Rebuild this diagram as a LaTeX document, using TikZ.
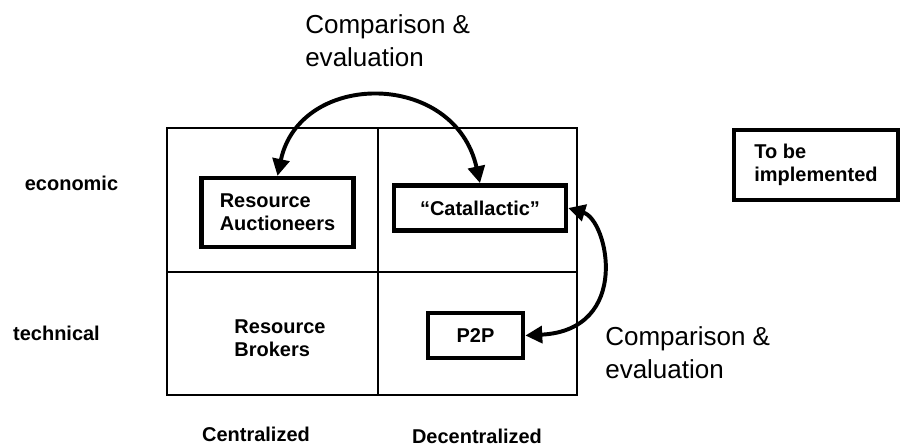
\documentclass[tikz,border=0pt]{standalone}
\usepackage{fontspec}
\setmainfont{Liberation Sans}
\usetikzlibrary{arrows.meta}

\begin{document}
\begin{tikzpicture}[x=0.025cm, y=-0.025cm,
   grid/.style={line width=1pt},
   heavybox/.style={draw=black, line width=3.2pt, inner sep=0pt, align=left,
      font=\fontsize{14.2}{16.5}\selectfont\bfseries},
   axislabel/.style={inner sep=0pt, align=left,
      font=\fontsize{14.2}{16.5}\selectfont\bfseries},
   remark/.style={inner sep=0pt, align=left,
      font=\fontsize{18.5}{23.5}\selectfont},
   compare/.style={{Triangle[length=12pt,width=12pt]}-{Triangle[length=12pt,width=12pt]},
      line width=2.8pt}]
      \useasboundingbox (0,0) rectangle (902,446);

      % the four quadrants
      \draw[grid] (167,128) rectangle (577,395);
      \draw[grid] (378,128) -- (378,395);
      \draw[grid] (167,272) -- (577,272);

      \node[heavybox, name=auc, minimum width=3.8cm, minimum height=1.72cm] at (277.5,212.5) {Resource\\Auctioneers};
      \node[heavybox, name=cat, minimum width=4.3cm, minimum height=1.13cm] at (480,208) {``Catallactic''};
      \node[heavybox, name=ptp, minimum width=2.38cm, minimum height=1.13cm] at (475.5,335.5) {P2P};
      \node[axislabel, name=brk] at (280,338) {Resource\\Brokers};

      \node[heavybox, name=todo, minimum width=4.1cm, minimum height=1.75cm] at (816,165) {To be\\implemented};

      \node[axislabel, name=eco] at (71.5,183) {economic};
      \node[axislabel, name=tec] at (56.5,333) {technical};
      \node[axislabel, name=cen] at (256,434) {Centralized};
      \node[axislabel, name=dec] at (477,436) {Decentralized};

      \node[remark, name=cmpa, anchor=north west] at (305,14) {Comparison \&\\evaluation};
      \node[remark, name=cmpb, anchor=north west] at (605,326) {Comparison \&\\evaluation};

      \draw[compare] (auc.north) .. controls (300,70) and (455,70) .. (cat.north);
      \draw[compare] (cat.east) .. controls (608,220) and (632,330) .. (ptp.east);
\end{tikzpicture}
\end{document}
